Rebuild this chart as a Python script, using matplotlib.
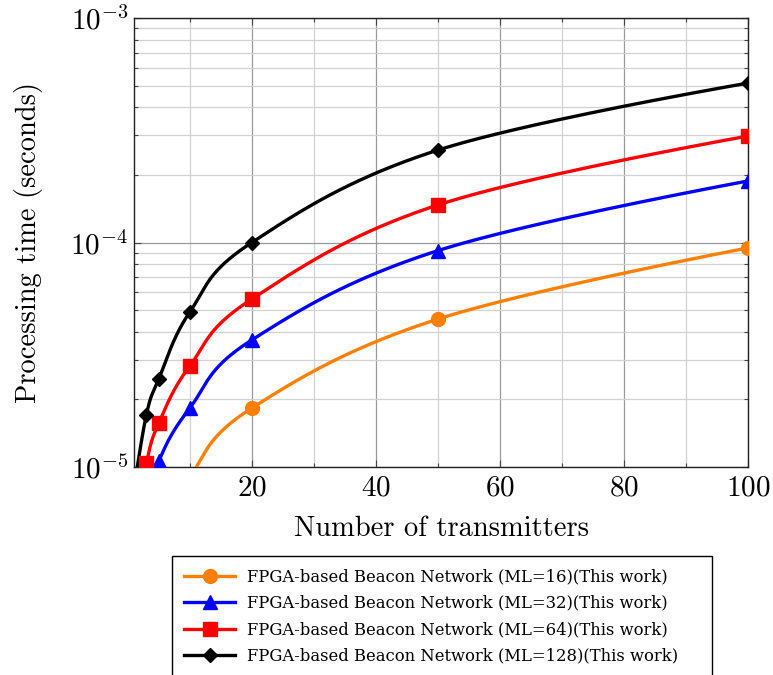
import numpy as np
import matplotlib
matplotlib.use("Agg")
import matplotlib.pyplot as plt
from matplotlib.ticker import LogLocator, MultipleLocator, NullFormatter, FixedLocator

plt.rcParams['font.family'] = ['cmr10', 'DejaVu Serif']
plt.rcParams['mathtext.fontset'] = 'cm'
plt.rcParams['axes.formatter.use_mathtext'] = True

# ---- data ----
n_tx = [1, 3, 5, 10, 20, 50, 100]
ml16 = [1.0e-6, 2.8e-6, 4.6e-6, 9.0e-6, 1.83e-5, 4.56e-5, 9.46e-5]
ml32 = [2.1e-6, 6.3e-6, 1.06e-5, 1.83e-5, 3.68e-5, 9.2e-5, 1.88e-4]
ml64 = [5.0e-6, 1.04e-5, 1.57e-5, 2.82e-5, 5.6e-5, 1.47e-4, 2.98e-4]
ml128 = [8.0e-6, 1.71e-5, 2.47e-5, 4.9e-5, 1.0e-4, 2.58e-4, 5.13e-4]
labels = ["FPGA-based Beacon Network (ML=16)(This work)",
          "FPGA-based Beacon Network (ML=32)(This work)",
          "FPGA-based Beacon Network (ML=64)(This work)",
          "FPGA-based Beacon Network (ML=128)(This work)"]
series = [ml16, ml32, ml64, ml128]
colors = ['#FF8000', '#0000FF', '#FF0000', '#000000']
markers = ['o', '^', 's', 'D']
msizes = [10, 10, 9.5, 7.5]
x_ticks = [20, 40, 60, 80, 100]

fig = plt.figure(figsize=(7.73, 6.75), dpi=100)
ax = fig.add_axes([134/773, 1-467/675, (748-134)/773, (467-18)/675])
ax.set_yscale('log')
ax.set_xlim(1, 100)
ax.set_ylim(1e-5, 1e-3)

# ticks and grid
ax.xaxis.set_major_locator(FixedLocator(x_ticks))
ax.xaxis.set_minor_locator(MultipleLocator(10))
ax.yaxis.set_major_locator(LogLocator(base=10, numticks=10))
ax.yaxis.set_minor_locator(LogLocator(base=10, subs=np.arange(2, 10), numticks=20))
ax.yaxis.set_minor_formatter(NullFormatter())
ax.grid(True, which='major', color='#9a9a9a', linewidth=0.9)
ax.grid(True, which='minor', color='#d2d2d2', linewidth=0.9)
ax.set_axisbelow(True)
ax.tick_params(which='both', direction='in', top=True, right=True, color='#444444')
ax.tick_params(which='major', length=5, width=0.8, labelsize=21, pad=6)
ax.tick_params(axis='y', which='major', pad=4)
ax.tick_params(which='minor', length=3, width=0.8)
for s in ax.spines.values():
    s.set_linewidth(1.0)
    s.set_color('#222222')

ax.set_xlabel("Number of transmitters", fontsize=20.5, labelpad=10)
ax.set_ylabel("Processing time (seconds)", fontsize=20.5, labelpad=20)


def smooth_path(xs, ys, tension=0.55 / 3, npts=40):
    pts = ax.transData.transform(np.column_stack([xs, ys]))
    n = len(pts)
    out = []
    for i in range(n - 1):
        p0, p3 = pts[i], pts[i + 1]
        if i == 0:
            c1 = p0
        else:
            c1 = p0 + tension * (pts[i + 1] - pts[i - 1])
        if i + 1 == n - 1:
            c2 = p3
        else:
            c2 = p3 - tension * (pts[i + 2] - pts[i])
        t = np.linspace(0, 1, npts)[:, None]
        seg = ((1 - t) ** 3) * p0 + 3 * ((1 - t) ** 2) * t * c1 + 3 * (1 - t) * t ** 2 * c2 + t ** 3 * p3
        out.append(seg if i == 0 else seg[1:])
    out = np.vstack(out)
    d = ax.transData.inverted().transform(out)
    return d[:, 0], d[:, 1]


handles = []
for ys, c, m, ms, lab in zip(series, colors, markers, msizes, labels):
    sx, sy = smooth_path(n_tx, ys)
    ax.plot(sx, sy, color=c, linewidth=2.4, zorder=3)
    ax.plot(n_tx, ys, linestyle='none', marker=m, markersize=ms, color=c, zorder=4)
    h, = ax.plot([], [], color=c, linewidth=2.4, marker=m, markersize=ms)
    handles.append(h)

leg = fig.legend(handles, labels, loc='upper left',
                 bbox_to_anchor=(172/773, 1-556/675, 540/773, 0.0),
                 bbox_transform=fig.transFigure, mode='expand',
                 prop={'family': ['DejaVu Serif'], 'size': 11.8},
                 frameon=True, fancybox=False, framealpha=1,
                 edgecolor='black', handlelength=3.1, handletextpad=0.7,
                 labelspacing=0.58, borderpad=0.75, borderaxespad=0)
leg.get_frame().set_linewidth(1.0)

fig.savefig("out.png", dpi=100)
